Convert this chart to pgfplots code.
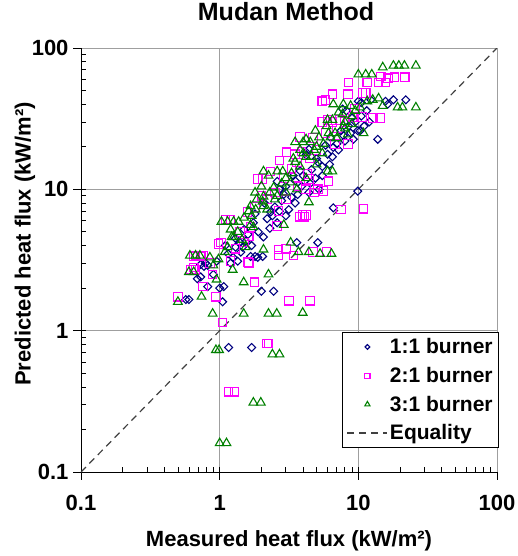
\documentclass[border=0pt]{standalone}
\usepackage{pgfplots}
\pgfplotsset{compat=1.18}
\usepackage{fontspec}
\setmainfont{Liberation Sans}
\definecolor{c1}{HTML}{000080}
\definecolor{c2}{HTML}{FF00FF}
\definecolor{c3}{HTML}{008000}
\newcommand{\lblfont}{\bfseries\fontsize{22bp}{26bp}\selectfont}
\newcommand{\legfont}{\bfseries\fontsize{21bp}{24bp}\selectfont}
\newcommand{\ttlfont}{\bfseries\fontsize{25bp}{29bp}\selectfont}
\begin{document}
\begin{tikzpicture}
\path[use as bounding box] (-81bp,-84bp) rectangle (437bp,472bp);
\begin{axis}[
 at={(0,0)}, anchor=south west,
 scale only axis, width=416bp, height=424bp,
 xmode=log, ymode=log,
 xmin=0.1, xmax=100, ymin=0.1, ymax=100,
 axis x line*=bottom, axis y line*=left,
 axis line style={black, line width=0.8bp, -},
 xtick={0.1,1,10,100}, ytick={0.1,1,10,100},
 xticklabels={0.1,1,10,100}, yticklabels={0.1,1,10,100},
 /pgf/number format/assume math mode=true,
 tick label style={font=\lblfont},
 xticklabel style={yshift=-20bp},
 yticklabel style={xshift=-9bp},
 tick align=inside,
 major tick length=-8bp, minor tick length=5bp,
 tick style={black, line width=0.8bp},
 grid=major, major grid style={gray!75, line width=0.8bp},
 title={Mudan Method},
 title style={font=\ttlfont, at={(axis description cs:0.493,1.071)}, anchor=center},
 xlabel={Measured heat flux (kW/m²)},
 ylabel={Predicted heat flux (kW/m²)},
 label style={font=\lblfont},
 xlabel style={at={(axis description cs:0.5,-0.163)}, anchor=center},
 ylabel style={at={(axis description cs:-0.135,0.538)}, anchor=center},
 legend style={at={(1.005,0.057)}, anchor=south east, draw=black, line width=0.8bp, fill=white,
   font=\legfont, row sep=8bp, inner xsep=4bp, inner ysep=4bp},
 legend cell align=left,
 legend image code/.code={\draw[mark repeat=2,mark phase=2,#1] plot coordinates {(0bp,0bp) (20bp,0bp) (40bp,0bp)};},
 legend image post style={every mark/.append style={scale=0.6}},
]
\addplot[only marks, mark=square, mark size=2.8bp, mark options={rotate=45, draw=c1, line width=1.1bp}, c1] coordinates {
(0.57,1.66) (0.60,1.66) (0.69,2.33) (0.73,2.4) (0.73,2.94) (0.77,2.85) (0.79,3.0) (0.82,2.9) (0.82,2.05) (1.0,2.0) (1.07,2.05) (1.05,1.6) (1.16,0.76) (1.7,0.76) (2.0,1.9) (2.45,1.9) (3.6,4.2) (5.1,4.2) (9.9,9.7)
(1.2,3.0) (1.35,3.1) (1.42,3.6) (1.3,3.9) (1.46,3.9) (1.67,3.35) (1.8,3.35) (2.04,3.35) (1.88,3.3) (2.07,4.6) (1.9,5.0) (1.15,3.5) (0.95,3.1) (0.9,2.5) (1.25,3.3) (1.55,4.3) (1.7,4.0) (2.3,5.3) (2.6,5.8) (1.3,4.5) (1.5,5.2) (1.75,5.8) (2.2,6.2) (2.5,7.5) (2.8,8.3) (3.0,6.5) (3.3,8.8) (2.7,10.0) (2.33,6.9) (3.15,7.2) (3.65,9.2) (4.4,9.5) (5.2,10) (6.6,7.4) (2.6,11.4) (3.5,11.5) (4.0,12.5) (3.8,13.5) (4.6,13.8) (5.5,14.5) (5.1,15.6) (4.2,17.5) (4.2,18.3) (6.0,17.7) (6.5,17) (4.4,19.2) (6.6,19.8) (5.8,20.5) (7.0,21) (6.3,23.3) (7.8,24) (9.2,22.6) (13.8,22.6) (7.5,26) (9.9,26) (10.3,26) (8.5,28) (9.5,30) (10.5,33) (11.5,36) (7.7,37) (8.2,36) (10,42) (10.5,41) (12.3,43) (15.7,42) (16.3,40) (17.9,43) (22,43) (2.1,8.0) (1.8,6.7) (3.0,10.5) (3.4,12.5) (2.9,9.2) (4.9,12) (5.5,12.5) (1.6,4.8)
(1.1,4.0) (1.4,4.2) (2.4,6.5) (2.7,7.0) (3.5,8.0) (3.9,10.5) (4.5,11) (5.0,16.5) (6.2,15) (7.2,19) (8.0,22) (8.8,25) (11.0,28) (12.0,30) (9.0,32)
};
\addlegendentry{1:1 burner}
\addplot[only marks, mark=square, mark size=4.3bp, mark options={draw=c2, line width=1.1bp}, c2] coordinates {
(0.5,1.74) (0.62,2.7) (0.67,2.7) (0.65,2.8) (0.65,3.35) (0.67,3.4) (0.73,3.35) (0.76,3.4) (0.76,2.05) (0.89,2.5) (0.94,1.74) (1.05,1.14) (1.16,0.37) (1.28,0.37) (2.2,0.81) (2.25,0.81) (3.15,1.63) (4.5,1.63) (1.2,3.1) (1.6,3.05) (1.62,3.0) (1.78,2.2) (2.66,3.75) (3.0,3.8) (2.66,3.4) (3.4,3.4) (4.7,3.6) (5.9,3.6) (0.98,4.1) (1.02,4.2) (1.62,4.65) (1.1,6.1) (1.2,6.1) (1.59,6.9) (1.67,5.4) (2.6,5.5) (3.8,6.4) (4.1,6.4) (3.96,6.6) (4.2,6.6) (2.66,7.0) (3.0,8.5) (7.5,7.2) (10.9,7.3) (1.88,11.8) (2.04,11.8) (2.33,13.4) (3.65,10.5) (4.2,10) (5.1,10) (4.8,9.5) (5.6,9.7) (4.4,11.8) (4.3,12.8) (6.1,11.4) (3.04,18.3) (3.5,17.7) (3.9,18.5) (3.8,23.4) (4.7,23) (6.8,21) (8.4,21) (5.5,30) (6.0,31) (6.5,30) (7.4,31) (9.1,32.5) (10.7,32.5) (12.7,32) (14.3,32) (5.5,42) (5.8,43) (6.5,47) (8.4,47) (10.7,48) (11.3,48) (8.5,57) (11.6,57) (14,57) (15.7,57) (14.5,63) (16.3,61) (18.2,62) (21.6,62)
(1.4,5.0) (1.8,7.5) (2.2,8.5) (2.5,9.5) (2.9,12) (3.3,14) (2.0,9.0) (1.3,3.8) (0.85,3.0) (1.5,4.2) (2.7,16) (3.6,15.5) (4.5,16.5) (5.0,19) (5.8,25) (7.0,27) (8.0,30) (9.5,37)
};
\addlegendentry{2:1 burner}
\addplot[only marks, mark=triangle, mark size=5bp, mark options={draw=c3, line width=1.1bp}, c3] coordinates {
(1.0,0.16) (1.12,0.16) (1.75,0.31) (1.98,0.31) (0.94,0.73) (0.99,0.73) (2.4,0.68) (2.7,0.68) (0.89,1.32) (1.49,1.32) (2.25,1.32) (2.58,1.32) (3.97,1.34) (0.5,1.6) (0.74,1.74) (1.49,2.2) (0.95,2.3) (2.25,2.5) (1.24,2.7) (0.6,2.6) (0.65,2.6) (0.61,3.4) (0.67,3.4) (0.72,3.4) (0.98,3.2) (1.09,3.6) (1.14,3.9) (1.54,3.9) (2.07,3.75) (3.25,4.2) (3.7,3.6) (4.4,3.6) (5.3,3.5) (6.4,3.5) (1.22,4.6) (1.26,4.6) (1.35,5.0) (1.2,5.2) (1.75,5.4) (1.67,5.6) (2.9,5.6) (1.03,5.9) (1.14,5.9) (1.26,5.9) (1.37,5.9) (1.5,6.3) (1.62,7.0) (1.82,7.2) (1.67,7.6) (2.07,7.6) (2.04,8.2) (4.4,8.1) (1.85,8.5) (2.5,8.5) (2.07,8.9) (2.3,9.5) (1.8,9.5) (3.0,9.5) (3.6,10) (2.45,10.3) (2.0,10.5) (2.8,11) (3.25,11.2) (4.2,12) (2.25,12.5) (3.3,13) (2.07,13.4) (2.6,13.4) (2.85,13.4) (6.0,13.4) (6.5,13.4) (3.8,14.5) (5.0,15) (3.5,15.6) (4.2,17) (4.6,17) (5.5,18) (3.8,19) (5.0,20) (3.5,21.6) (4.0,21.6) (4.5,21.6) (4.2,22.6) (5.2,23.3) (6.3,23.3) (8.4,24.5) (6.8,25) (6.1,25) (10.9,25) (4.9,26) (7.8,28) (5.9,28) (8,30) (6.0,31) (6.5,31) (9,33) (7.7,34) (7.2,35) (9.5,36) (10.3,38) (15,39) (19.2,38) (20.8,38) (26,38) (8.8,39) (6.6,40) (7.8,40) (11.6,42) (12.7,43) (14,44) (10,65) (11.3,65) (12.5,65) (15,73) (17.9,75) (19.6,75) (21.5,75) (26,75) (0.85,3.3) (0.9,2.9)
(1.45,4.4) (1.7,6.5) (2.2,7.2) (2.6,9.0) (3.0,12) (3.4,16.5) (4.0,18) (4.8,19) (5.6,21) (7.0,23) (8.0,27) (9.0,29)
};
\addlegendentry{3:1 burner}
\addplot[no marks, color=black!75, line width=1.2bp, dash pattern=on 7bp off 5bp] coordinates {(0.1,0.1) (100,100)};
\addlegendentry{Equality}
\end{axis}
\end{tikzpicture}
\end{document}
